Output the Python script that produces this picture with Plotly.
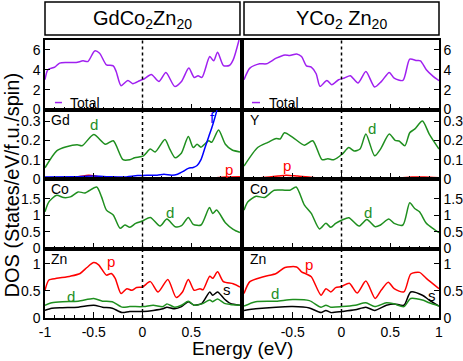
import plotly.graph_objects as go
from plotly.subplots import make_subplots

# ---- data (energy in eV, DOS in states/eV/f.u./spin) ----
gd_tot_e = [-1.0, -0.97, -0.9, -0.85, -0.78, -0.68, -0.61, -0.56, -0.49, -0.44, -0.37, -0.3, -0.27, -0.22,
            -0.15, -0.1, -0.03, 0.02, 0.09, 0.17, 0.24, 0.33, 0.4, 0.475, 0.53, 0.57, 0.61, 0.69, 0.73,
            0.77, 0.83, 0.89, 0.93, 0.99]
gd_tot = [3.0, 4.0, 4.27, 4.67, 4.73, 4.73, 4.9, 4.83, 5.9, 5.67, 4.5, 4.4, 3.83, 2.4,
          2.93, 2.6, 2.9, 3.1, 3.53, 2.83, 3.73, 2.33, 2.83, 4.17, 3.23, 3.4, 3.23, 5.33, 4.9,
          5.77, 4.43, 4.43, 5.0, 7.0]

y_tot_e = [-1.0, -0.94, -0.84, -0.77, -0.67, -0.58, -0.53, -0.46, -0.41, -0.36, -0.31, -0.26, -0.22,
           -0.15, -0.1, -0.03, 0.03, 0.09, 0.17, 0.25, 0.34, 0.41, 0.49, 0.54, 0.63, 0.7, 0.77, 0.81,
           0.87, 0.94, 1.0]
y_tot = [3.0, 4.17, 4.6, 4.6, 5.17, 5.5, 5.43, 5.6, 5.33, 4.4, 4.27, 3.6, 2.33,
         2.93, 2.5, 3.0, 3.17, 3.4, 2.67, 3.83, 2.27, 2.83, 3.73, 3.17, 2.93, 5.07, 4.93, 4.9,
         4.0, 3.33, 2.9]

gd_d_e = [-1.0, -0.88, -0.78, -0.67, -0.62, -0.5, -0.38, -0.3, -0.2, -0.13, -0.08, 0.01, 0.08, 0.13,
          0.23, 0.28, 0.335, 0.4, 0.47, 0.52, 0.56, 0.6, 0.68, 0.71, 0.78, 0.85, 0.92, 1.0]
gd_d = [0.058, 0.146, 0.167, 0.177, 0.172, 0.23, 0.18, 0.198, 0.1, 0.1, 0.11, 0.12, 0.155, 0.14,
        0.204, 0.155, 0.11, 0.135, 0.22, 0.163, 0.18, 0.165, 0.198, 0.19, 0.254, 0.18, 0.15, 0.14]
gd_f_e = [-1.0, -0.7, -0.5, -0.35, -0.2, -0.05, 0.05, 0.15, 0.22, 0.3, 0.36, 0.42, 0.47, 0.52, 0.56,
          0.6, 0.64, 0.68, 0.72, 0.76, 0.8, 0.85]
gd_f = [0.01, 0.012, 0.015, 0.012, 0.01, 0.018, 0.02, 0.02, 0.025, 0.02, 0.025, 0.04, 0.055, 0.06, 0.07,
        0.1, 0.16, 0.22, 0.28, 0.35, 0.45, 0.6]
gd_p_e = [-1.0, -0.7, -0.55, -0.45, -0.3, -0.1, 0.2, 0.5, 0.7, 0.85, 1.0]
gd_p = [0.005, 0.008, 0.02, 0.012, 0.008, 0.005, 0.004, 0.004, 0.006, 0.01, 0.012]

y_d_e = [-1.0, -0.86, -0.755, -0.67, -0.63, -0.585, -0.5, -0.38, -0.295, -0.2, -0.14, -0.08, 0.006,
         0.075, 0.13, 0.19, 0.25, 0.34, 0.4, 0.49, 0.55, 0.59, 0.65, 0.7, 0.75, 0.83, 0.9, 1.0]
y_d = [0.067, 0.163, 0.19, 0.21, 0.207, 0.24, 0.216, 0.175, 0.198, 0.1, 0.105, 0.1, 0.128,
       0.163, 0.145, 0.155, 0.233, 0.12, 0.155, 0.233, 0.2, 0.197, 0.172, 0.24, 0.258, 0.3, 0.233, 0.155]
y_p_e = [-1.0, -0.8, -0.65, -0.57, -0.45, -0.3, 0.0, 0.4, 0.6, 0.72, 0.85, 1.0]
y_p = [0.005, 0.008, 0.015, 0.02, 0.015, 0.008, 0.005, 0.004, 0.005, 0.01, 0.01, 0.006]

co1_e = [-1.0, -0.96, -0.88, -0.81, -0.74, -0.66, -0.59, -0.47, -0.42, -0.37, -0.3, -0.23, -0.18, -0.13,
         -0.07, 0.0, 0.08, 0.18, 0.25, 0.335, 0.4, 0.47, 0.52, 0.6, 0.687, 0.72, 0.76, 0.85, 0.93, 1.0]
co1_d = [1.11, 1.41, 1.61, 1.54, 1.56, 1.71, 1.68, 1.86, 1.56, 1.16, 1.01, 0.61, 0.71, 0.64,
         0.76, 0.83, 0.94, 0.68, 0.89, 0.66, 0.69, 0.94, 0.73, 0.71, 1.24, 1.06, 1.16, 0.78, 0.58, 0.48]
co2_e = [-1.0, -0.96, -0.876, -0.79, -0.69, -0.58, -0.53, -0.465, -0.38, -0.31, -0.226, -0.16, -0.11,
         -0.06, 0.006, 0.075, 0.18, 0.26, 0.345, 0.4, 0.485, 0.54, 0.63, 0.7, 0.75, 0.8, 0.87, 0.95, 1.0]
co2_d = [1.16, 1.41, 1.58, 1.54, 1.76, 1.76, 1.76, 1.86, 1.31, 1.06, 0.59, 0.76, 0.64,
         0.76, 0.86, 0.93, 0.68, 0.88, 0.66, 0.71, 0.89, 0.76, 0.71, 1.38, 1.21, 1.11, 0.76, 0.58, 0.48]

zn1_p_e = [-1.0, -0.96, -0.88, -0.74, -0.64, -0.57, -0.5, -0.45, -0.37, -0.32, -0.28, -0.22, -0.16, -0.11,
           -0.06, 0.0, 0.08, 0.16, 0.26, 0.345, 0.41, 0.47, 0.53, 0.59, 0.62, 0.69, 0.72, 0.77, 0.83,
           0.93, 1.0]
zn1_p = [0.51, 0.7, 0.73, 0.77, 0.82, 0.93, 1.02, 0.98, 0.79, 0.82, 0.73, 0.45, 0.54, 0.51,
         0.56, 0.57, 0.67, 0.48, 0.71, 0.38, 0.48, 0.71, 0.51, 0.54, 0.52, 0.77, 0.73, 0.85, 0.67,
         0.63, 0.57]
zn1_ds_e = [-1.0, -0.93, -0.82, -0.66, -0.5, -0.41, -0.31, -0.21, -0.13, 0.01, 0.11, 0.21, 0.25, 0.33,
            0.4, 0.47, 0.53, 0.61, 0.69, 0.72, 0.77, 0.84, 0.9, 1.0]
zn1_d = [0.235, 0.28, 0.3, 0.31, 0.36, 0.31, 0.3, 0.2, 0.21, 0.21, 0.235, 0.21, 0.26, 0.2,
         0.235, 0.31, 0.235, 0.26, 0.33, 0.3, 0.35, 0.27, 0.25, 0.235]
zn1_s = [0.14, 0.18, 0.19, 0.2, 0.235, 0.2, 0.18, 0.1, 0.12, 0.12, 0.14, 0.17, 0.2, 0.17,
         0.21, 0.3, 0.235, 0.27, 0.48, 0.42, 0.48, 0.35, 0.27, 0.235]

zn2_p_e = [-1.0, -0.94, -0.8, -0.67, -0.58, -0.46, -0.41, -0.36, -0.31, -0.21, -0.16, -0.11, -0.06, 0.0,
           0.08, 0.16, 0.25, 0.345, 0.41, 0.48, 0.54, 0.64, 0.71, 0.8, 0.87, 1.0]
zn2_p = [0.45, 0.67, 0.76, 0.82, 0.93, 0.94, 0.85, 0.81, 0.76, 0.42, 0.54, 0.48, 0.56, 0.58,
         0.64, 0.46, 0.68, 0.36, 0.52, 0.66, 0.54, 0.48, 0.81, 0.84, 0.73, 0.54]
zn2_ds_e = [-1.0, -0.88, -0.67, -0.5, -0.33, -0.21, -0.16, -0.11, 0.006, 0.14, 0.25, 0.34, 0.46, 0.54,
            0.64, 0.71, 0.83, 0.9, 1.0]
zn2_d = [0.22, 0.3, 0.31, 0.34, 0.32, 0.2, 0.235, 0.2, 0.21, 0.235, 0.28, 0.21, 0.28, 0.26,
         0.21, 0.36, 0.33, 0.28, 0.22]
zn2_s = [0.14, 0.17, 0.2, 0.21, 0.185, 0.1, 0.14, 0.1, 0.12, 0.15, 0.2, 0.14, 0.235, 0.26,
         0.235, 0.48, 0.42, 0.33, 0.22]

# y tick values per row (Total, Gd/Y, Co, Zn)
row_yticks = [[0, 2, 4, 6], [0, 0.1, 0.2, 0.3], [0, 0.5, 1, 1.5], [0, 0.5, 1]]

PURPLE = "#a020f0"
GREEN = "#1f8f1f"
RED = "#ff0000"
BLUE = "#0000ff"
FONT = "Liberation Sans, Arial, sans-serif"

fig = make_subplots(rows=4, cols=2, horizontal_spacing=0.0102, vertical_spacing=0)


def curve(x, y, color, row, col):
    fig.add_trace(go.Scatter(x=x, y=y, mode="lines", line=dict(color=color, width=1.5, shape="spline", smoothing=0.7),
                             showlegend=False, hoverinfo="skip"), row=row, col=col)


curve(gd_tot_e, gd_tot, PURPLE, 1, 1)
curve(y_tot_e, y_tot, PURPLE, 1, 2)
curve(gd_d_e, gd_d, GREEN, 2, 1)
curve(gd_p_e, gd_p, RED, 2, 1)
curve(gd_f_e, gd_f, BLUE, 2, 1)
curve(y_d_e, y_d, GREEN, 2, 2)
curve(y_p_e, y_p, RED, 2, 2)
curve(co1_e, co1_d, GREEN, 3, 1)
curve(co2_e, co2_d, GREEN, 3, 2)
curve(zn1_ds_e, zn1_s, "black", 4, 1)
curve(zn1_ds_e, zn1_d, GREEN, 4, 1)
curve(zn1_p_e, zn1_p, RED, 4, 1)
curve(zn2_ds_e, zn2_s, "black", 4, 2)
curve(zn2_ds_e, zn2_d, GREEN, 4, 2)
curve(zn2_p_e, zn2_p, RED, 4, 2)

yranges = [[0, 7], [0, 0.36], [0, 2.1], [0, 1.28]]
for r in range(1, 5):
    for c in (1, 2):
        fig.update_xaxes(range=[-1, 1], showline=True, mirror=True, linecolor="black", linewidth=1.5,
                         ticks="inside", ticklen=6, tickwidth=1, tickcolor="black",
                         minor=dict(ticks="inside", ticklen=3, dtick=0.1, tickcolor="black"),
                         showgrid=False, zeroline=False, automargin=False, row=r, col=c)
        fig.update_yaxes(range=yranges[r - 1], tickvals=row_yticks[r - 1], showline=True, mirror=True,
                         linecolor="black", linewidth=1.5, ticks="inside", ticklen=5, tickcolor="black",
                         showgrid=False, zeroline=False, side="left" if c == 1 else "right", automargin=False,
                         tickfont=dict(size=14, color="black", family=FONT), row=r, col=c)
        if r < 4:
            fig.update_xaxes(showticklabels=False, row=r, col=c)
        fig.add_vline(x=0, line=dict(color="black", width=1.5, dash="dot"), row=r, col=c)

fig.update_xaxes(tickvals=[-1, -0.5, 0, 0.5], ticktext=["-1", "-0.5", "0", "0.5"],
                 tickfont=dict(size=14, color="black", family=FONT), row=4, col=1)
fig.update_xaxes(tickvals=[-0.5, 0, 0.5, 1], ticktext=["-0.5", "0", "0.5", "1"],
                 tickfont=dict(size=14, color="black", family=FONT), row=4, col=2)

# title boxes
for x0, x1, txt in [(0, 0.4949, "GdCo<sub>2</sub>Zn<sub>20</sub>"), (0.5051, 1, "YCo<sub>2</sub> Zn<sub>20</sub>")]:
    fig.add_shape(type="rect", xref="paper", yref="paper", x0=x0, x1=x1, y0=1.018, y1=1.137,
                  line=dict(color="black", width=1.5))
    fig.add_annotation(xref="paper", yref="paper", x=(x0 + x1) / 2, y=1.075, text=txt, showarrow=False,
                       xanchor="center", yanchor="middle", font=dict(size=20, color="black", family=FONT))

# Total legend marks
for xa, ya, lx0, lx1, tx in [("x", "y", 0.051, 0.087, 0.12), ("x2", "y2", 0.041, 0.082, 0.12)]:
    fig.add_shape(type="line", xref=xa + " domain", yref=ya + " domain", x0=lx0, x1=lx1, y0=0.1, y1=0.1,
                  line=dict(color=PURPLE, width=1.5))
    fig.add_annotation(xref=xa + " domain", yref=ya + " domain", x=tx, y=0.1, text="Total", showarrow=False,
                       xanchor="left", yanchor="middle", font=dict(size=14, color="black", family=FONT))

# panel element labels
for xa, ya, txt in [("x3", "y3", "Gd"), ("x4", "y4", "Y"), ("x5", "y5", "Co"), ("x6", "y6", "Co"),
                    ("x7", "y7", "Zn"), ("x8", "y8", "Zn")]:
    fig.add_annotation(xref=xa + " domain", yref=ya + " domain", x=0.02, y=1.0, text=txt, showarrow=False,
                       xanchor="left", yanchor="top", font=dict(size=14, color="black", family=FONT))

# orbital labels
orb = [("x3", "y3", -0.5, 0.28, "d", GREEN), ("x3", "y3", 0.72, 0.32, "f", BLUE), ("x3", "y3", 0.89, 0.05, "p", RED),
       ("x4", "y4", 0.31, 0.26, "d", GREEN), ("x4", "y4", -0.56, 0.07, "p", RED),
       ("x5", "y5", 0.28, 1.1, "d", GREEN), ("x6", "y6", 0.27, 1.1, "d", GREEN),
       ("x7", "y7", -0.32, 1.04, "p", RED), ("x7", "y7", -0.73, 0.39, "d", GREEN), ("x7", "y7", 0.87, 0.52, "s", "black"),
       ("x8", "y8", -0.33, 0.98, "p", RED), ("x8", "y8", -0.68, 0.46, "d", GREEN), ("x8", "y8", 0.93, 0.41, "s", "black")]
for xa, ya, ex, ey, txt, col in orb:
    fig.add_annotation(xref=xa, yref=ya, x=ex, y=ey, text=txt, showarrow=False,
                       xanchor="center", yanchor="middle", font=dict(size=15, color=col, family=FONT))

fig.add_annotation(xref="paper", yref="paper", x=-0.084, y=0.48, text="DOS (States/eV/f.u./spin)",
                   textangle=-90, showarrow=False, xanchor="center", yanchor="middle",
                   font=dict(size=20, color="black", family=FONT))
fig.add_annotation(xref="paper", yref="paper", x=0.501, y=-0.11, text="Energy (eV)", showarrow=False,
                   xanchor="center", yanchor="middle", font=dict(size=19, color="black", family=FONT))

fig.update_layout(width=463, height=361, margin=dict(l=45, r=24, t=40, b=43),
                  plot_bgcolor="white", paper_bgcolor="white", showlegend=False)
# drop the default page margin so the figure sits at the window's top-left corner
fig.write_html("out.html", config={"displayModeBar": False},
               post_script="document.body.style.margin='0px';document.body.style.overflow='hidden';")
